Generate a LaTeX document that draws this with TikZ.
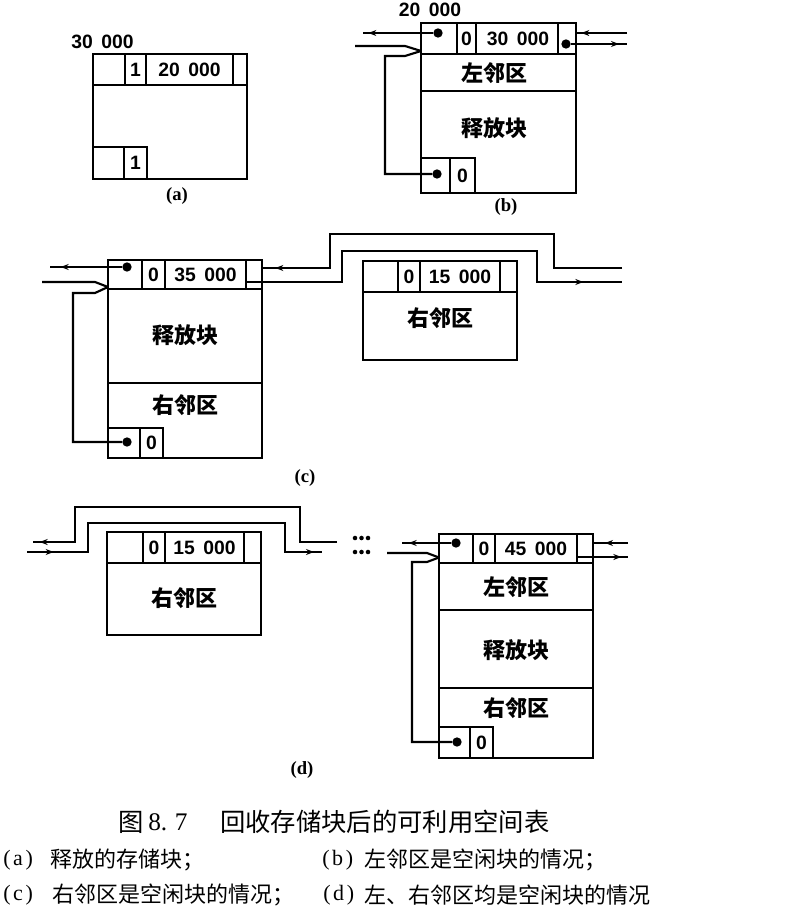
\documentclass[tikz,border=0pt]{standalone}
\usepackage{fontspec}
\setmainfont{Liberation Serif}
\newfontfamily\cjk{Noto Sans CJK SC}
\newfontfamily\dig{Liberation Sans}
\usetikzlibrary{arrows.meta,decorations.markings}
\newcommand{\nn}[2]{#1\hspace{0.45em}#2}
\newcommand{\pl}[1]{(\kern0.12em#1\kern0.12em)}
\tikzset{
  blk/.style={line width=1.9pt},
  lnk/.style={line width=1.6pt},
  tipat/.style={postaction={decorate}, decoration={markings, mark=at position #1 with {\arrow{Stealth[length=6pt,width=4.5pt]}}}},
  pdot/.style={circle, fill=black, inner sep=0pt, minimum size=7pt},
  sdot/.style={circle, fill=black, inner sep=0pt, minimum size=3.4pt},
  dg/.style={font=\dig\bfseries\fontsize{14.5}{14.5}\selectfont, inner sep=0pt},
  zh/.style={font=\cjk\bfseries\fontsize{16.5}{16.5}\selectfont, inner sep=0pt},
  sub/.style={font=\bfseries\fontsize{14}{14}\selectfont, inner sep=0pt},
  captxt/.style={font=\cjk\fontsize{16.5}{16.5}\selectfont, inner sep=0pt, anchor=west},
  caplat/.style={font=\rmfamily\fontsize{16.5}{16.5}\selectfont, inner sep=0pt, anchor=west},
  captitle/.style={font=\cjk\fontsize{19}{19}\selectfont, inner sep=0pt, anchor=west},
}
\begin{document}
\begin{tikzpicture}[x=0.75pt, y=-0.75pt]
\useasboundingbox (0,0) rectangle (795,919);
\fill[white] (0,0) rectangle (795,919);

% ---------- (a) ----------
\draw[blk] (93,54) rectangle (247,179);
\draw[blk] (93,85) -- (247,85);
\draw[blk] (125,54) -- (125,85) (146,54) -- (146,85) (233,54) -- (233,85);
\draw[blk] (93,147) -- (147,147) -- (147,179) (124,147) -- (124,179);
\node[dg] (a1) at (135.5,70) {1};
\node[dg] (a2) at (189.5,70) {\nn{20}{000}};
\node[dg] (a3) at (135.5,163) {1};
\node[dg] (a0) at (102.5,42) {\nn{30}{000}};
\node[sub] (la) at (177,196) {(a)};

% ---------- (b) ----------
\draw[blk] (421,23) rectangle (576,193);
\draw[blk] (421,54) -- (576,54) (421,91) -- (576,91);
\draw[blk] (457,23) -- (457,54) (476,23) -- (476,54) (558,23) -- (558,54);
\draw[blk] (421,158) -- (475,158) -- (475,193) (450,158) -- (450,193);
\node[dg] (b1) at (466.5,39) {0};
\node[dg] (b2) at (518,39) {\nn{30}{000}};
\node[zh] (b3) at (494,73) {左邻区};
\node[zh] (b4) at (494,128) {释放块};
\node[dg] (b5) at (462.5,176) {0};
\node[dg] (b0) at (430,10) {\nn{20}{000}};
\node[sub] (lb) at (506,207) {(b)};
\node[pdot] (bL) at (438,33) {};
\node[pdot] (bR) at (566,44) {};
\node[pdot] (bB) at (437,174) {};
\coordinate (bLe) at (363,33);
\coordinate (bIn) at (355,46);
\coordinate (bTip) at (421,51);
\coordinate (bRu) at (627,33);
\coordinate (bRuE) at (576,33);
\coordinate (bRl) at (627,44);
\draw[lnk, tipat=-4pt] (bL) -- (bLe);
\draw[lnk] (bIn) -- (405,46) -- (bTip);
\draw[lnk] (bB) -- (385,174) -- (385,56) -- (405,56) -- (bTip);
\draw[lnk, tipat=-4pt] (bRu) -- (bRuE);
\draw[lnk, tipat=-6pt] (bR) -- (bRl);

% ---------- (c) ----------
\draw[blk] (108,260) rectangle (262,458);
\draw[blk] (108,289) -- (262,289) (108,383) -- (262,383);
\draw[blk] (142,260) -- (142,289) (165,260) -- (165,289) (246,260) -- (246,289);
\draw[blk] (108,428) -- (163,428) -- (163,458) (140,428) -- (140,458);
\node[dg] (c1) at (153.5,275) {0};
\node[dg] (c2) at (205.5,275) {\nn{35}{000}};
\node[zh] (c3) at (185,335) {释放块};
\node[zh] (c4) at (185,405) {右邻区};
\node[dg] (c5) at (151.5,443) {0};
\node[pdot] (cL) at (127,267) {};
\node[pdot] (cB) at (127,442) {};
\coordinate (cLe) at (50,267);
\coordinate (cIn) at (42,282);
\coordinate (cTip) at (108,287);
\coordinate (cRu) at (622,268);
\coordinate (cRuE) at (262,268);
\coordinate (cRs) at (246,282);
\coordinate (cRl) at (622,282);
\draw[lnk, tipat=-8pt] (cL) -- (cLe);
\draw[lnk] (cIn) -- (95,282) -- (cTip);
\draw[lnk] (cB) -- (73,442) -- (73,293) -- (95,293) -- (cTip);
\draw[lnk, tipat=-10pt] (cRu) -- (554,268) -- (554,234) -- (330,234) -- (330,268) -- (cRuE);
\draw[lnk, tipat=-29pt] (cRs) -- (342,282) -- (342,251) -- (537,251) -- (537,282) -- (cRl);
% right neighbour block
\draw[blk] (363,261) rectangle (517,360);
\draw[blk] (363,292) -- (517,292);
\draw[blk] (398,261) -- (398,292) (420,261) -- (420,292) (500,261) -- (500,292);
\node[dg] (c6) at (409,277) {0};
\node[dg] (c7) at (460,277) {\nn{15}{000}};
\node[zh] (c8) at (440,318) {右邻区};
\node[sub] (lc) at (305,478) {(c)};

% ---------- (d) left ----------
\draw[blk] (107,532) rectangle (261,635);
\draw[blk] (107,563) -- (261,563);
\draw[blk] (143,532) -- (143,563) (165,532) -- (165,563) (244,532) -- (244,563);
\node[dg] (d1) at (154,548) {0};
\node[dg] (d2) at (204.5,548) {\nn{15}{000}};
\node[zh] (d3) at (184,598) {右邻区};
\coordinate (dUr) at (337,542);
\coordinate (dUl) at (33,542);
\coordinate (dLl) at (27,552);
\coordinate (dLr) at (322,552);
\draw[lnk, tipat=-5pt] (dUr) -- (300,542) -- (300,507) -- (75,507) -- (75,542) -- (dUl);
\draw[lnk, postaction={decorate}, decoration={markings,
   mark=at position 20pt with {\arrow{Stealth[length=6pt,width=4.5pt]}},
   mark=at position -6pt with {\arrow{Stealth[length=6pt,width=4.5pt]}}}]
   (dLl) -- (88,552) -- (88,523) -- (285,523) -- (285,552) -- (dLr);
\foreach \i/\xx in {1/355,2/361.5,3/368}{
  \node[sdot] (du\i) at (\xx,538) {};
  \node[sdot] (dl\i) at (\xx,552) {};
}

% ---------- (d) right ----------
\draw[blk] (439,534) rectangle (593,758);
\draw[blk] (439,563) -- (593,563) (439,610) -- (593,610) (439,688) -- (593,688);
\draw[blk] (473,534) -- (473,563) (495,534) -- (495,563) (577,534) -- (577,563);
\draw[blk] (439,727) -- (493,727) -- (493,758) (470,727) -- (470,758);
\node[dg] (e1) at (484,549) {0};
\node[dg] (e2) at (536,549) {\nn{45}{000}};
\node[zh] (e3) at (516,587) {左邻区};
\node[zh] (e4) at (516,650) {释放块};
\node[zh] (e5) at (516,708) {右邻区};
\node[dg] (e6) at (481.5,743) {0};
\node[pdot] (eL) at (456,543) {};
\node[pdot] (eB) at (457,742) {};
\coordinate (eLe) at (402,543);
\coordinate (eIn) at (387,553);
\coordinate (eTip) at (439,557.5);
\coordinate (eRu) at (628,543);
\coordinate (eRuE) at (593,543);
\coordinate (eRs) at (577,557);
\coordinate (eRl) at (628,557);
\draw[lnk, tipat=-5pt] (eL) -- (eLe);
\draw[lnk] (eIn) -- (427,553) -- (eTip);
\draw[lnk] (eB) -- (412,742) -- (412,562) -- (427,562) -- (eTip);
\draw[lnk, tipat=-9pt] (eRu) -- (eRuE);
\draw[lnk, tipat=-5pt] (eRs) -- (eRl);
\node[sub] (ld) at (302,770) {(d)};

% ---------- caption ----------
\node[captitle] (t1) at (118,822) {图};
\node[captitle, font=\rmfamily\fontsize{19}{19}\selectfont] (t2) at (148,822) {8.\kern0.3em7};
\node[captitle] (t3) at (220,822) {回收存储块后的可利用空间表};
\node[caplat] (s1l) at (3,860) {\pl{a}};
\node[captxt] (s1) at (50,860) {释放的存储块；};
\node[caplat] (s2l) at (322,860) {\pl{b}};
\node[captxt] (s2) at (364,860) {左邻区是空闲块的情况；};
\node[caplat] (s3l) at (3,895) {\pl{c}};
\node[captxt] (s3) at (52,895) {右邻区是空闲块的情况；};
\node[caplat] (s4l) at (323,895) {\pl{d}};
\node[captxt] (s4) at (364,895) {左、右邻区均是空闲块的情况};
\end{tikzpicture}
\end{document}
